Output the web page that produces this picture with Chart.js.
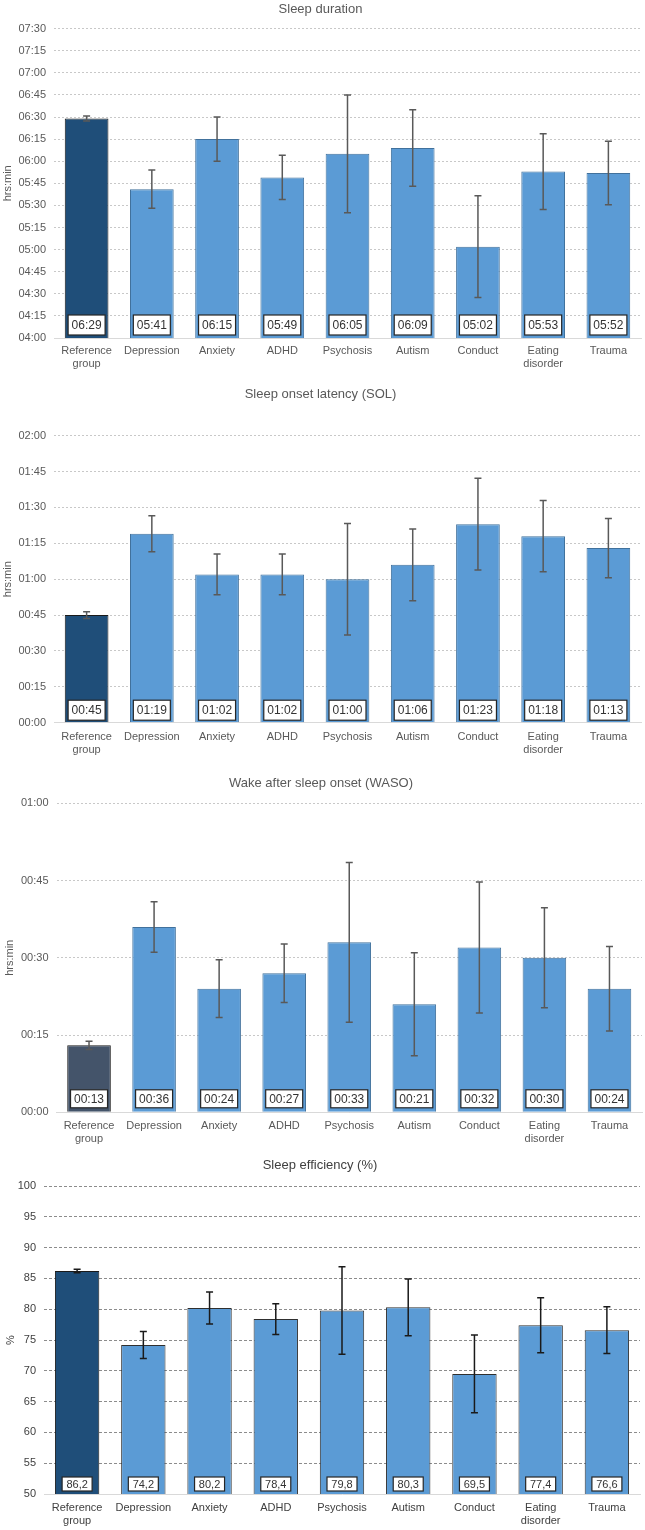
<!DOCTYPE html>
<html>
<head>
<meta charset="utf-8">
<script src="https://cdn.jsdelivr.net/npm/chart.js@4"></script>
<style>
  body { margin: 0; background: #fff; }
  .box { position: absolute; left: 0; width: 645px; }
</style>
</head>
<body>
<div class="box" style="top:0;height:375px"><canvas id="duration"></canvas></div>
<div class="box" style="top:375px;height:390px"><canvas id="sol"></canvas></div>
<div class="box" style="top:765px;height:385px"><canvas id="waso"></canvas></div>
<div class="box" style="top:1150px;height:380px"><canvas id="efficiency"></canvas></div>
<script>
// groups
const categories = [['Reference', 'group'], 'Depression', 'Anxiety', 'ADHD', 'Psychosis', 'Autism', 'Conduct', ['Eating', 'disorder'], 'Trauma'];

// sleep duration, minutes
const durationMin = [389, 341, 375, 349, 365, 369, 302, 353, 352];
const durationErr = [1.7, 13, 15, 15, 40, 26, 34.5, 25.7, 21.5];

// sleep onset latency, minutes
const solMin = [45, 79, 62, 62, 60, 66, 83, 78, 73];
const solErr = [1.4, 7.5, 8.5, 8.5, 23.3, 15, 19.2, 14.9, 12.4];

// wake after sleep onset, minutes
const wasoMin = [13, 36, 24, 27, 33, 21, 32, 30, 24];
const wasoErr = [0.8, 4.9, 5.6, 5.7, 15.5, 10, 12.7, 9.7, 8.2];

// sleep efficiency, %
const effPct = [86.2, 74.2, 80.2, 78.4, 79.8, 80.3, 69.5, 77.4, 76.6];
const effErr = [0.3, 2.2, 2.6, 2.5, 7.1, 4.6, 6.3, 4.45, 3.8];

const FONT = "'Liberation Sans', Arial, sans-serif";

function hhmm(v) {
    const m = Math.round(v);
    return String(Math.floor(m / 60)).padStart(2, '0') + ':' + String(m % 60).padStart(2, '0');
}
function comma(v) {
    return v.toFixed(1).replace('.', ',');
}

// error bars + value boxes at the foot of each bar
const barExtras = {
    id: 'barExtras',
    afterDatasetsDraw(chart, args, opts) {
        const ctx = chart.ctx;
        const y = chart.scales.y;
        const meta = chart.getDatasetMeta(0);
        const vals = chart.data.datasets[0].data;
        const area = chart.chartArea;
        ctx.save();
        ctx.strokeStyle = opts.errColor;
        ctx.lineWidth = 1.5;
        meta.data.forEach((bar, i) => {
            const e = opts.errors[i];
            const yt = y.getPixelForValue(vals[i] + e);
            const yb = y.getPixelForValue(vals[i] - e);
            ctx.beginPath();
            ctx.moveTo(bar.x, yt); ctx.lineTo(bar.x, yb);
            ctx.moveTo(bar.x - 3.5, yt); ctx.lineTo(bar.x + 3.5, yt);
            ctx.moveTo(bar.x - 3.5, yb); ctx.lineTo(bar.x + 3.5, yb);
            ctx.stroke();
        });
        ctx.font = opts.boxFont + 'px ' + FONT;
        ctx.textAlign = 'center';
        ctx.textBaseline = 'middle';
        meta.data.forEach((bar, i) => {
            const w = opts.boxW, h = opts.boxH;
            const bottom = area.bottom - opts.boxGap;
            ctx.fillStyle = '#fff';
            ctx.fillRect(bar.x - w / 2, bottom - h, w, h);
            ctx.strokeStyle = '#262626';
            ctx.lineWidth = 1.2;
            ctx.strokeRect(bar.x - w / 2, bottom - h, w, h);
            ctx.fillStyle = '#333';
            ctx.fillText(opts.format(vals[i]), bar.x, bottom - h / 2 + 0.5);
        });
        ctx.restore();
    }
};

function makeChart(id, o) {
    const colors = o.values.map((v, i) => i === 0 ? o.refColor : '#5B9BD5');
    const borders = o.values.map((v, i) => i === 0 ? '#1a1a1a' : o.barBorder);
    return new Chart(document.getElementById(id), {
        type: 'bar',
        data: {
            labels: categories,
            datasets: [{
                data: o.values,
                backgroundColor: colors,
                borderColor: borders,
                borderWidth: 1,
                barPercentage: 0.67,
                categoryPercentage: 1
            }]
        },
        options: {
            responsive: true,
            maintainAspectRatio: false,
            animation: false,
            layout: { padding: { left: 0, right: 645 - o.right, top: 0, bottom: 0 } },
            plugins: {
                legend: { display: false },
                tooltip: { enabled: false },
                title: {
                    display: true,
                    text: o.title,
                    color: o.text,
                    font: { family: FONT, size: 13, weight: 'normal' },
                    padding: o.titlePad
                },
                barExtras: {
                    errors: o.errors,
                    errColor: o.errColor,
                    format: o.format,
                    boxW: o.boxW, boxH: o.boxH, boxGap: o.boxGap, boxFont: o.boxFont
                }
            },
            scales: {
                x: {
                    grid: { display: false, drawTicks: false },
                    border: { display: true, color: '#d9d9d9', width: 1 },
                    ticks: {
                        color: o.text,
                        font: { family: FONT, size: 11 },
                        padding: o.xPad,
                        maxRotation: 0,
                        autoSkip: false
                    },
                    afterFit(s) { s.height = o.xHeight; }
                },
                y: {
                    min: o.min,
                    max: o.max,
                    grid: { color: o.gridColor, drawTicks: false },
                    border: { display: false, dash: o.dash },
                    ticks: {
                        stepSize: o.step,
                        color: o.text,
                        padding: 8,
                        font: { family: FONT, size: 11 },
                        callback: o.tickFormat
                    },
                    title: {
                        display: true,
                        text: o.yTitle,
                        color: o.text,
                        font: { family: FONT, size: 11 },
                        padding: { top: o.yTitlePad, bottom: 0 }
                    },
                    afterFit(s) { s.width = o.left; }
                }
            }
        },
        plugins: [barExtras]
    });
}

makeChart('duration', {
    title: 'Sleep duration', titlePad: { top: 1.5, bottom: 11.5 },
    values: durationMin, errors: durationErr,
    min: 240, max: 450, step: 15, tickFormat: v => hhmm(v), format: hhmm,
    yTitle: 'hrs:min', yTitlePad: 1.4, left: 54, right: 641,
    xHeight: 37, xPad: 6.4, text: '#595959', dash: [2, 2],
    refColor: '#1F4E79', barBorder: '#41719C', gridColor: '#c8c8c8', errColor: '#595959',
    boxW: 37, boxH: 20, boxGap: 3, boxFont: 12
});

makeChart('sol', {
    title: 'Sleep onset latency (SOL)', titlePad: { top: 11.2, bottom: 33.9 },
    values: solMin, errors: solErr,
    min: 0, max: 120, step: 15, tickFormat: v => hhmm(v), format: hhmm,
    yTitle: 'hrs:min', yTitlePad: 1.4, left: 54, right: 641,
    xHeight: 42.3, xPad: 7.4, text: '#595959', dash: [2, 2],
    refColor: '#1F4E79', barBorder: '#41719C', gridColor: '#c8c8c8', errColor: '#595959',
    boxW: 37, boxH: 20, boxGap: 2.5, boxFont: 12
});

makeChart('waso', {
    title: 'Wake after sleep onset (WASO)', titlePad: { top: 11, bottom: 11.7 },
    values: wasoMin, errors: wasoErr,
    min: 0, max: 60, step: 15, tickFormat: v => hhmm(v), format: hhmm,
    yTitle: 'hrs:min', yTitlePad: 3, left: 56.5, right: 642,
    xHeight: 37.7, xPad: 6.8, text: '#595959', dash: [2, 2],
    refColor: '#44546A', barBorder: '#41719C', gridColor: '#c8c8c8', errColor: '#595959',
    boxW: 37, boxH: 18, boxGap: 4.5, boxFont: 12
});

makeChart('efficiency', {
    title: 'Sleep efficiency (%)', titlePad: { top: 7.2, bottom: 13.2 },
    values: effPct, errors: effErr,
    min: 50, max: 100, step: 5, tickFormat: v => v, format: comma,
    yTitle: '%', yTitlePad: 4.4, left: 44, right: 640,
    xHeight: 36, xPad: 7.4, text: '#404040', dash: [3, 2],
    refColor: '#1F4E79', barBorder: '#2f2f2f', gridColor: '#8c8c8c', errColor: '#1a1a1a',
    boxW: 30, boxH: 14, boxGap: 3, boxFont: 11
});
</script>
</body>
</html>
